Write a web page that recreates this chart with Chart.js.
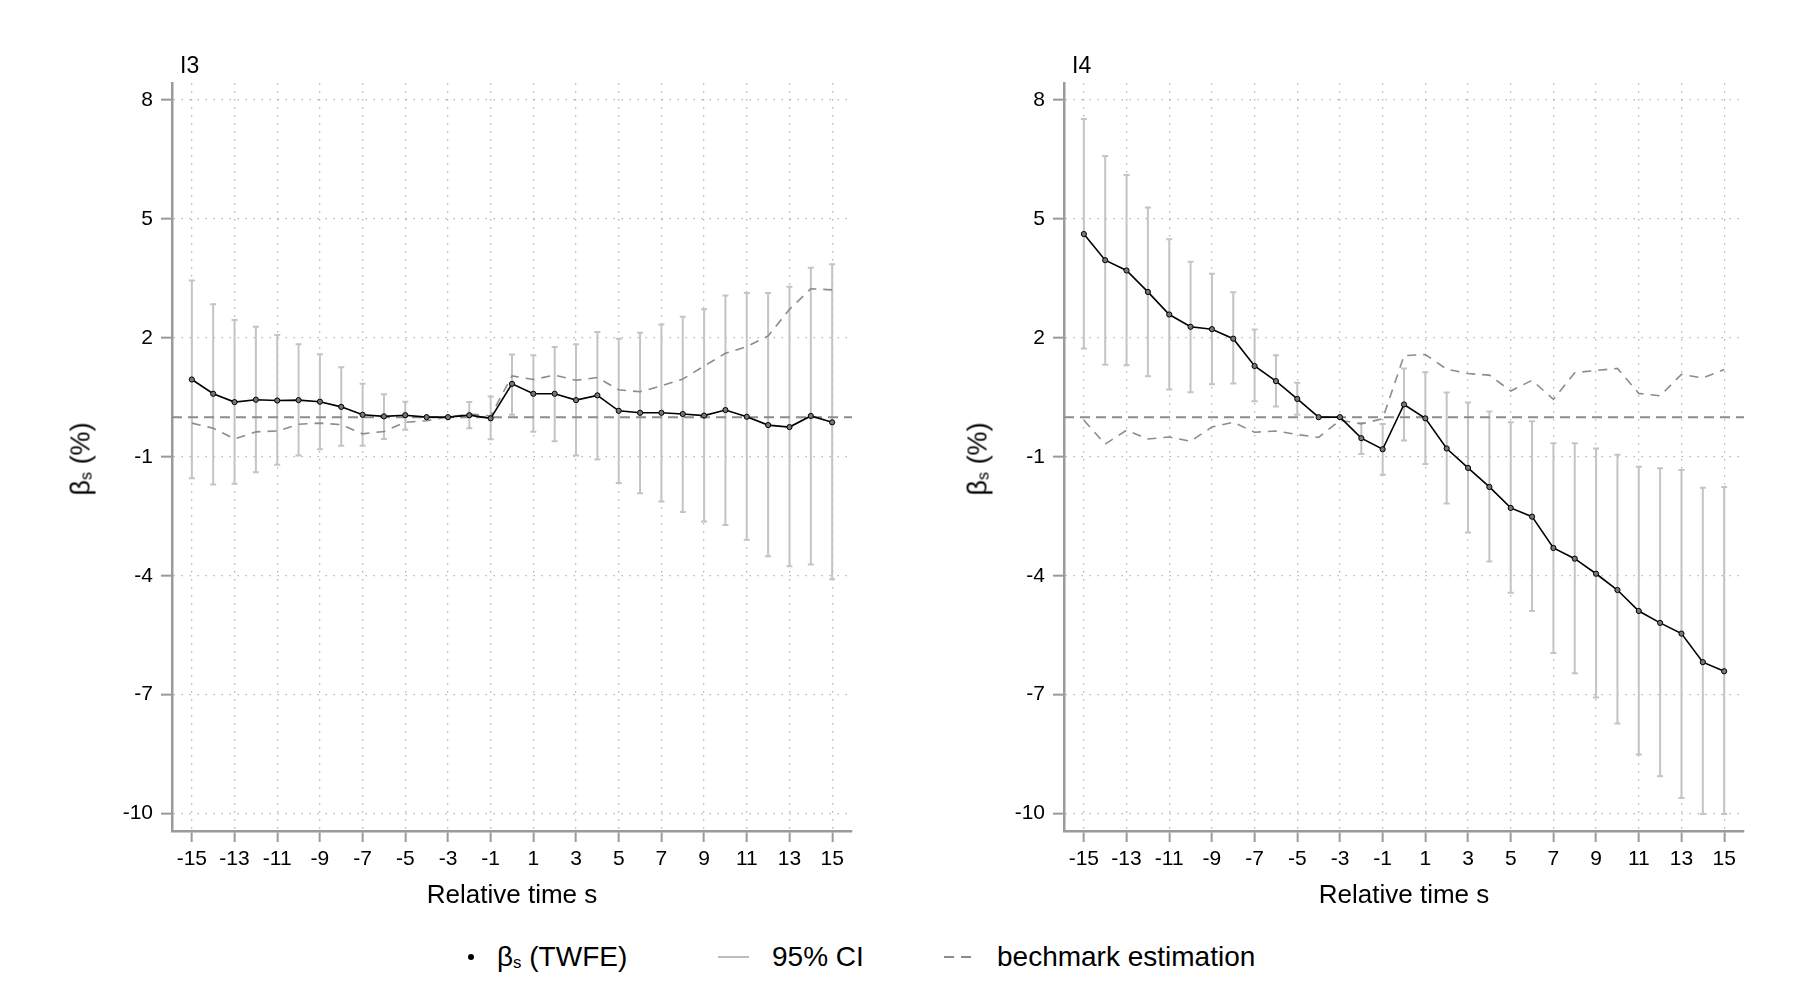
<!DOCTYPE html>
<html>
<head>
<meta charset="utf-8">
<script src="https://cdn.jsdelivr.net/npm/chart.js@4.4.1/dist/chart.umd.min.js"></script>
<style>
  body { margin: 0; background: #fff; font-family: "Liberation Sans", Arial, sans-serif; }
  #page { position: relative; width: 1800px; height: 1000px; overflow: hidden; }
  canvas { position: absolute; top: 0; }
  .ytitle { position: absolute; font-size: 27px; color: #000; white-space: nowrap;
            transform: translate(-50%, -50%) rotate(-90deg); top: 459px; }
  .ytitle sub, .legend sub { font-size: 60%; vertical-align: -0.15em; }
  .legend { position: absolute; top: 957px; font-size: 28px; color: #000; white-space: nowrap;
            transform: translateY(-50%); }
  .legend svg { display: block; }
</style>
</head>
<body>
<div id="page">
  <canvas id="chartI3" width="880" height="930" style="left:0px"></canvas>
  <canvas id="chartI4" width="880" height="930" style="left:892px"></canvas>
  <div class="ytitle" style="left:81px">β<sub>s</sub> (%)</div>
  <div class="ytitle" style="left:978px">β<sub>s</sub> (%)</div>

  <div class="legend" style="left:466px"><svg width="10" height="10"><circle cx="5" cy="5" r="3" fill="#000"/></svg></div>
  <div class="legend" style="left:497px">β<sub>s</sub> (TWFE)</div>
  <div class="legend" style="left:718px"><svg width="32" height="6"><line x1="0" y1="3" x2="31" y2="3" stroke="#bdbdbd" stroke-width="2"/></svg></div>
  <div class="legend" style="left:772px">95% CI</div>
  <div class="legend" style="left:944px"><svg width="34" height="6"><line x1="0" y1="3" x2="34" y2="3" stroke="#8c8c8c" stroke-width="2" stroke-dasharray="10 7"/></svg></div>
  <div class="legend" style="left:997px">bechmark estimation</div>
</div>

<script>
// relative time s
const relTime = [-15, -14, -13, -12, -11, -10, -9, -8, -7, -6, -5, -4, -3, -2, -1,
                 0, 1, 2, 3, 4, 5, 6, 7, 8, 9, 10, 11, 12, 13, 14, 15];
const xTicks = [-15, -13, -11, -9, -7, -5, -3, -1, 1, 3, 5, 7, 9, 11, 13, 15];
const yTicks = [8, 5, 2, -1, -4, -7, -10];

// panel I3
const i3Beta  = [0.95, 0.59, 0.38, 0.44, 0.42, 0.43, 0.39, 0.26, 0.06, 0.02, 0.05, 0, 0, 0.05, -0.03,
                 0.84, 0.59, 0.59, 0.43, 0.55, 0.16, 0.11, 0.11, 0.08, 0.04, 0.18, 0.01, -0.20, -0.25, 0.03, -0.13];
const i3Upper = [3.45, 2.85, 2.45, 2.28, 2.07, 1.84, 1.59, 1.26, 0.84, 0.58, 0.39, null, null, 0.38, 0.52,
                 1.58, 1.56, 1.77, 1.84, 2.15, 1.98, 2.13, 2.34, 2.53, 2.72, 3.07, 3.13, 3.13, 3.29, 3.77, 3.86];
const i3Lower = [-1.54, -1.70, -1.68, -1.39, -1.20, -0.97, -0.81, -0.72, -0.72, -0.55, -0.32, null, null, -0.28, -0.56,
                 0.06, -0.37, -0.61, -0.97, -1.07, -1.66, -1.92, -2.13, -2.39, -2.63, -2.72, -3.09, -3.51, -3.76, -3.72, -4.09];
const i3Bench = [-0.15, -0.28, -0.55, -0.37, -0.35, -0.18, -0.15, -0.19, -0.42, -0.36, -0.13, -0.09, 0.0, 0.08, 0.03,
                 1.04, 0.95, 1.06, 0.93, 1.00, 0.69, 0.64, 0.79, 0.96, 1.29, 1.61, 1.78, 2.05, 2.72, 3.24, 3.21];

// panel I4
const i4Beta  = [4.62, 3.96, 3.70, 3.16, 2.59, 2.28, 2.22, 1.98, 1.29, 0.91, 0.46, 0, 0, -0.53, -0.81,
                 0.32, -0.03, -0.79, -1.28, -1.76, -2.29, -2.51, -3.30, -3.57, -3.95, -4.36, -4.89, -5.19, -5.46, -6.18, -6.41];
const i4Upper = [7.52, 6.59, 6.11, 5.29, 4.49, 3.92, 3.62, 3.15, 2.21, 1.56, 0.87, null, null, -0.15, -0.17,
                 1.23, 1.13, 0.62, 0.37, 0.14, -0.13, -0.10, -0.66, -0.66, -0.79, -0.95, -1.25, -1.29, -1.33, -1.78, -1.76];
const i4Lower = [1.73, 1.32, 1.31, 1.03, 0.70, 0.63, 0.83, 0.85, 0.40, 0.27, 0.06, null, null, -0.93, -1.45,
                 -0.59, -1.18, -2.18, -2.91, -3.64, -4.43, -4.89, -5.95, -6.46, -7.07, -7.73, -8.51, -9.06, -9.61, -10.01, -10.01];
const i4Bench = [-0.08, -0.68, -0.33, -0.55, -0.50, -0.61, -0.25, -0.13, -0.38, -0.35, -0.44, -0.51, -0.08, -0.17, -0.04,
                 1.55, 1.58, 1.21, 1.10, 1.06, 0.66, 0.93, 0.45, 1.12, 1.18, 1.23, 0.60, 0.54, 1.08, 0.99, 1.20];

const xMin = -15.93, xMax = 15.93;
const yMin = -10.44, yMax = 8.43;
const fontFamily = '"Liberation Sans", Arial, sans-serif';

function makePanel(canvasId, panelTitle, beta, lower, upper, bench) {
  const toPts = arr => relTime.map((s, i) => ({ x: s, y: arr[i] }));

  // error bars with small caps, drawn under the lines
  const ciPlugin = {
    id: 'ciBars',
    beforeDatasetsDraw(chart) {
      const { ctx, scales: { x, y } } = chart;
      ctx.save();
      ctx.strokeStyle = '#c4c4c4';
      ctx.lineWidth = 2;
      relTime.forEach((s, i) => {
        if (lower[i] == null || upper[i] == null) return;
        const px = x.getPixelForValue(s);
        const y1 = y.getPixelForValue(lower[i]);
        const y2 = y.getPixelForValue(upper[i]);
        ctx.beginPath();
        ctx.moveTo(px, y1); ctx.lineTo(px, y2);
        ctx.moveTo(px - 3, y1); ctx.lineTo(px + 3, y1);
        ctx.moveTo(px - 3, y2); ctx.lineTo(px + 3, y2);
        ctx.stroke();
      });
      ctx.restore();
    },
    afterDraw(chart) {
      const { ctx, chartArea } = chart;
      ctx.save();
      ctx.fillStyle = '#000';
      ctx.font = '23px ' + fontFamily;
      ctx.textBaseline = 'middle';
      ctx.fillText(panelTitle, chartArea.left + 8, 67);
      ctx.restore();
    }
  };

  new Chart(document.getElementById(canvasId).getContext('2d'), {
    type: 'line',
    data: {
      datasets: [
        {
          label: 'zero',
          data: [{ x: xMin, y: 0 }, { x: xMax, y: 0 }],
          borderColor: '#8c8c8c',
          borderWidth: 2,
          borderDash: [10, 6],
          pointRadius: 0,
          order: 3
        },
        {
          label: 'bechmark estimation',
          data: toPts(bench),
          borderColor: '#8c8c8c',
          borderWidth: 1.6,
          borderDash: [9, 7],
          pointRadius: 0,
          tension: 0,
          order: 2
        },
        {
          label: 'βs (TWFE)',
          data: toPts(beta),
          borderColor: '#000',
          borderWidth: 1.6,
          pointRadius: 2.6,
          pointBorderWidth: 1,
          pointBorderColor: '#000',
          pointBackgroundColor: '#777',
          tension: 0,
          order: 1
        }
      ]
    },
    options: {
      responsive: false,
      animation: false,
      layout: { padding: { top: 83, right: 28, left: 0, bottom: 0 } },
      scales: {
        x: {
          type: 'linear',
          min: xMin,
          max: xMax,
          afterBuildTicks: axis => { axis.ticks = xTicks.map(v => ({ value: v })); },
          afterFit: axis => { axis.height = 99; },
          ticks: {
            color: '#000',
            font: { size: 21, family: fontFamily },
            padding: 5,
            maxRotation: 0,
            autoSkip: false
          },
          grid: {
            color: '#b4b4b4',
            lineWidth: 1.3,
            tickLength: 11,
            tickColor: '#9a9a9a',
            tickWidth: 2
          },
          border: { display: true, color: '#9a9a9a', width: 2.5, dash: [1.5, 6.5] },
          title: {
            display: true,
            text: 'Relative time s',
            color: '#000',
            font: { size: 26, family: fontFamily },
            padding: { top: 0, bottom: 19 }
          }
        },
        y: {
          type: 'linear',
          min: yMin,
          max: yMax,
          afterBuildTicks: axis => { axis.ticks = yTicks.map(v => ({ value: v })); },
          afterFit: axis => { axis.width = 172; },
          ticks: {
            color: '#000',
            font: { size: 21, family: fontFamily },
            padding: 8
          },
          grid: {
            color: '#b4b4b4',
            lineWidth: 1.3,
            tickLength: 11,
            tickColor: '#9a9a9a',
            tickWidth: 2
          },
          border: { display: true, color: '#9a9a9a', width: 2.5, dash: [1.5, 6.5] }
        }
      },
      plugins: {
        legend: { display: false },
        tooltip: { enabled: false }
      }
    },
    plugins: [ciPlugin]
  });
}

makePanel('chartI3', 'I3', i3Beta, i3Lower, i3Upper, i3Bench);
makePanel('chartI4', 'I4', i4Beta, i4Lower, i4Upper, i4Bench);
</script>
</body>
</html>
